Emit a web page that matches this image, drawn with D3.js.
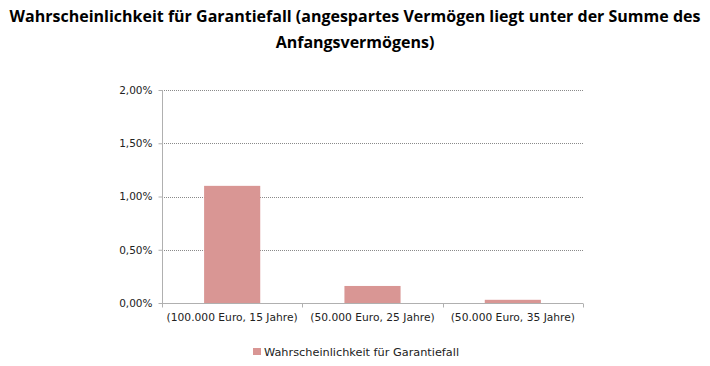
<!DOCTYPE html>
<html><head><meta charset="utf-8">
<script src="https://cdn.jsdelivr.net/npm/d3@7"></script>
<style>body{margin:0;background:#fff}svg{display:block}</style>
</head><body>
<svg id="c" width="710" height="366"></svg>
<script>
const categories = ["(100.000 Euro, 15 Jahre)", "(50.000 Euro, 25 Jahre)", "(50.000 Euro, 35 Jahre)"];
const values = [0.0110, 0.0016, 0.0003];
const yTicks = [0, 0.005, 0.01, 0.015, 0.02];
const seriesName = "Wahrscheinlichkeit für Garantiefall";
const titleLines = ["Wahrscheinlichkeit für Garantiefall (angespartes Vermögen liegt unter der Summe des", "Anfangsvermögens)"];

const svg = d3.select("#c");
const L = 162, R = 583, T = 90, B = 303;
const x = d3.scaleBand().domain(categories).range([L, R]).paddingInner(0.6).paddingOuter(0.3);
const y = d3.scaleLinear().domain([0, 0.02]).range([B, T]);
const fmt = v => (v*100).toFixed(2).replace(".", ",") + "%";
const tickFont = "DejaVu Sans, Verdana, sans-serif";

// title
svg.append("g").selectAll("text").data(titleLines).join("text")
  .attr("x", 355).attr("y", (d,i) => 22 + i*26)
  .attr("text-anchor", "middle")
  .style("font-family", "Open Sans, sans-serif").style("font-weight", "bold")
  .style("font-size", "16px").attr("fill", "#000").text(d => d);

// gridlines
svg.append("g").selectAll("line").data(yTicks.filter(t => t > 0)).join("line")
  .attr("x1", L).attr("x2", R).attr("y1", d => Math.round(y(d))+0.5).attr("y2", d => Math.round(y(d))+0.5)
  .attr("stroke", "#8a8a8a").attr("stroke-dasharray", "1,1");

// y axis
const ya = svg.append("g").attr("transform", `translate(${L+0.5},0)`)
  .call(d3.axisLeft(y).tickValues(yTicks).tickFormat(fmt).tickSize(4).tickPadding(6));
ya.select(".domain").attr("stroke", "#b0b0b0").attr("d", `M0,${T}V${B+0.5}`);
ya.selectAll(".tick line").attr("stroke", "#b0b0b0");
ya.selectAll(".tick text").style("font-family", tickFont).style("font-size", "10.5px").attr("fill", "#222");

// bars
svg.append("g").selectAll("rect").data(values).join("rect")
  .attr("x", (d,i) => x(categories[i])).attr("width", x.bandwidth())
  .attr("y", d => y(d)).attr("height", d => B - y(d))
  .attr("fill", "#d99694");

// x axis
const xa = svg.append("g").attr("transform", `translate(0,${B+0.5})`)
  .call(d3.axisBottom(x).tickSize(0).tickPadding(10));
xa.select(".domain").attr("stroke", "#b0b0b0").attr("d", `M${L},0H${R}`);
xa.selectAll(".tick text").style("font-family", tickFont).style("font-size", "10.7px").attr("fill", "#222");
const step = (R - L) / categories.length;
xa.append("g").selectAll("line").data(d3.range(categories.length + 1)).join("line")
  .attr("x1", i => Math.round(L + i*step)+0.5).attr("x2", i => Math.round(L + i*step)+0.5)
  .attr("y1", 0).attr("y2", 4).attr("stroke", "#b0b0b0");

// legend
svg.append("rect").attr("x", 253).attr("y", 348).attr("width", 8).attr("height", 7).attr("fill", "#d99694");
svg.append("text").attr("x", 264).attr("y", 356).text(seriesName)
  .style("font-family", tickFont).style("font-size", "11.3px").attr("fill", "#222");
</script>
</body></html>
